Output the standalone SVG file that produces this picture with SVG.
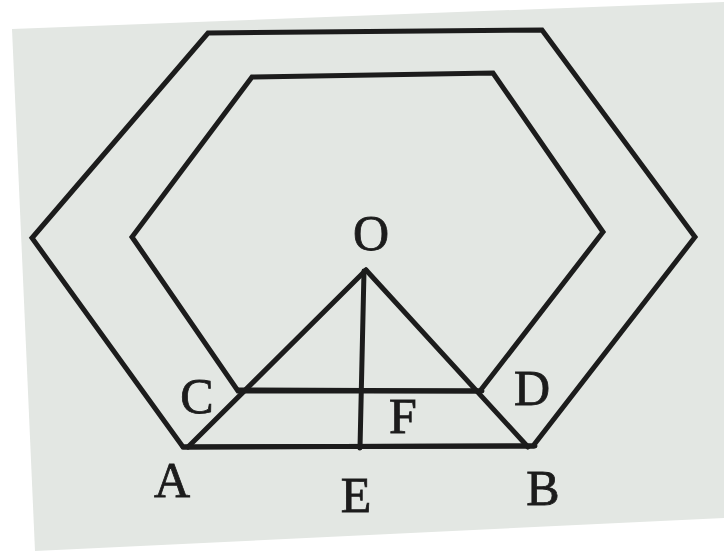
<svg xmlns="http://www.w3.org/2000/svg" width="724" height="551" viewBox="0 0 724 551">
  <style>
    .ln { fill: none; stroke: #1c1c1c; stroke-width: 5; stroke-linejoin: miter; stroke-linecap: round; }
    .lbl { font-family: "Liberation Serif", "Times New Roman", serif; font-size: 50px; fill: #1c1c1c; stroke: #1c1c1c; stroke-width: 0.8; text-anchor: middle; }
  </style>
  <rect x="0" y="0" width="724" height="551" fill="#ffffff"/>
  <polygon points="12,29 724,2 724,518 35,551" fill="#e3e7e3"/>
  <g id="outer-hexagon">
    <polygon class="ln" points="208,33 542,30 695,237 533,446 183,447 32,238"/>
  </g>
  <g id="inner-hexagon">
    <polygon class="ln" points="252,77 493,73 603,232 480,391 238,391 132,237"/>
  </g>
  <g id="connectors">
    <line class="ln" x1="366" y1="270" x2="188" y2="447"/>
    <line class="ln" x1="366" y1="270" x2="528" y2="447"/>
    <line class="ln" x1="364" y1="271" x2="360" y2="448"/>
    <line class="ln" x1="238" y1="390" x2="482" y2="391"/>
    <line class="ln" x1="183" y1="447" x2="535" y2="446"/>
  </g>
  <g id="O"><text class="lbl" x="371" y="250">O</text></g>
  <g id="C"><text class="lbl" x="197" y="413">C</text></g>
  <g id="D"><text class="lbl" x="532" y="405">D</text></g>
  <g id="F"><text class="lbl" x="403" y="433">F</text></g>
  <g id="A"><text class="lbl" x="172" y="497">A</text></g>
  <g id="E"><text class="lbl" x="356" y="512">E</text></g>
  <g id="B"><text class="lbl" x="543" y="505">B</text></g>
</svg>
